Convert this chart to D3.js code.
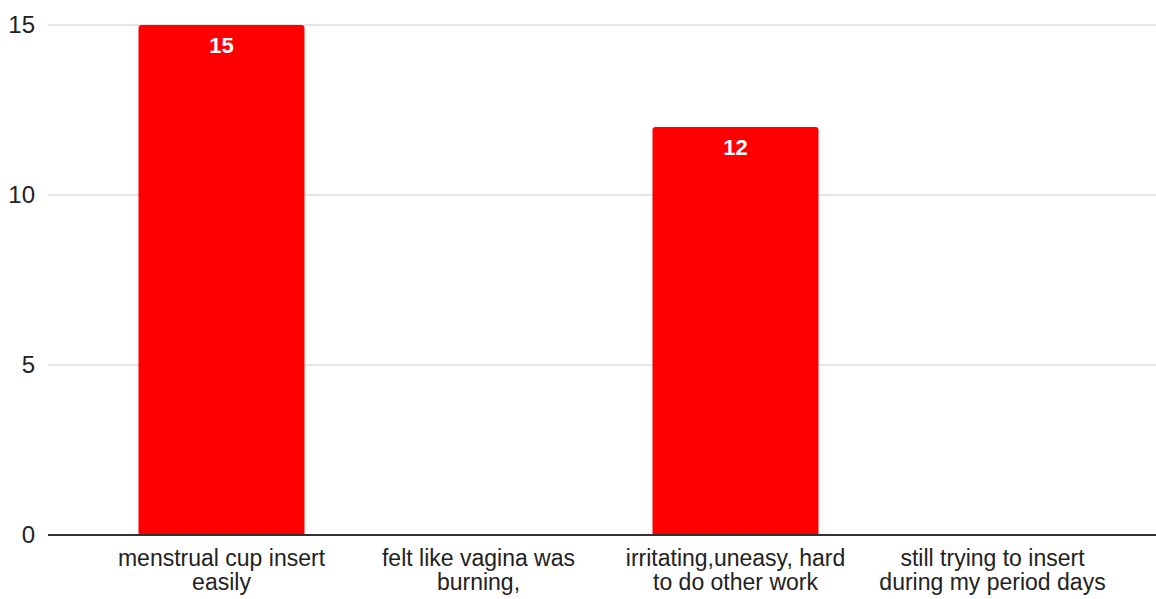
<!DOCTYPE html>
<html>
<head>
<meta charset="utf-8">
<script src="https://cdn.jsdelivr.net/npm/d3@7"></script>
<style>
  body { margin: 0; background: #fff; }
  text { font-family: "Liberation Sans", Arial, sans-serif; }
</style>
</head>
<body>
<div id="chart"></div>
<script>
// chart data
var categories = [
    ['menstrual cup insert', 'easily'],
    ['felt like vagina was', 'burning,'],
    ['irritating,uneasy, hard', 'to do other work'],
    ['still trying to insert', 'during my period days']
]
var values = [15, 0, 12, 0]
var yTicks = [0, 5, 10, 15]

var width = 1156
var height = 599

var svg = d3.select('#chart').append('svg')
    .attr('width', width)
    .attr('height', height)

var x = d3.scaleBand()
    .domain(d3.range(categories.length))
    .range([93, 1121])
    .paddingInner(0.354)
    .paddingOuter(0.177)

var y = d3.scaleLinear()
    .domain([0, 15])
    .range([535, 25])

// gridlines
svg.append('g').selectAll('line')
    .data(yTicks.filter(function(d) { return d > 0 }))
    .enter().append('line')
    .attr('x1', 48)
    .attr('x2', width)
    .attr('y1', function(d) { return y(d) })
    .attr('y2', function(d) { return y(d) })
    .attr('stroke', '#cccccc')
    .attr('stroke-width', 1)

// y tick labels
svg.append('g').selectAll('text')
    .data(yTicks)
    .enter().append('text')
    .attr('x', 35)
    .attr('y', function(d) { return y(d) })
    .attr('dy', '0.35em')
    .attr('text-anchor', 'end')
    .attr('font-size', 24)
    .attr('fill', '#222')
    .text(function(d) { return d })

// bars with slightly rounded tops
var barPath = function(i) {
    var x0 = x(i), w = x.bandwidth(), y0 = y(values[i]), yb = y(0), r = 3
    return 'M' + x0 + ',' + yb +
        'V' + (y0 + r) +
        'Q' + x0 + ',' + y0 + ' ' + (x0 + r) + ',' + y0 +
        'H' + (x0 + w - r) +
        'Q' + (x0 + w) + ',' + y0 + ' ' + (x0 + w) + ',' + (y0 + r) +
        'V' + yb + 'Z'
}

var nonZero = d3.range(values.length).filter(function(i) { return values[i] > 0 })

svg.append('g').selectAll('path')
    .data(nonZero)
    .enter().append('path')
    .attr('d', barPath)
    .attr('fill', '#ff0000')

svg.append('g').selectAll('text')
    .data(nonZero)
    .enter().append('text')
    .attr('x', function(i) { return x(i) + x.bandwidth() / 2 })
    .attr('y', function(i) { return y(values[i]) + 28 })
    .attr('text-anchor', 'middle')
    .attr('font-size', 22)
    .attr('font-weight', 'bold')
    .attr('fill', '#fff')
    .text(function(i) { return values[i] })

// baseline
svg.append('line')
    .attr('x1', 48)
    .attr('x2', width)
    .attr('y1', y(0))
    .attr('y2', y(0))
    .attr('stroke', '#333')
    .attr('stroke-width', 2)

// category labels
var labels = svg.append('g').selectAll('text')
    .data(categories)
    .enter().append('text')
    .attr('x', function(d, i) { return x(i) + x.bandwidth() / 2 })
    .attr('y', 566)
    .attr('text-anchor', 'middle')
    .attr('font-size', 23)
    .attr('fill', '#222')

labels.selectAll('tspan')
    .data(function(d) { return d })
    .enter().append('tspan')
    .attr('x', function() { return d3.select(this.parentNode).attr('x') })
    .attr('dy', function(d, j) { return j == 0 ? 0 : 24 })
    .text(function(d) { return d })
</script>
</body>
</html>
